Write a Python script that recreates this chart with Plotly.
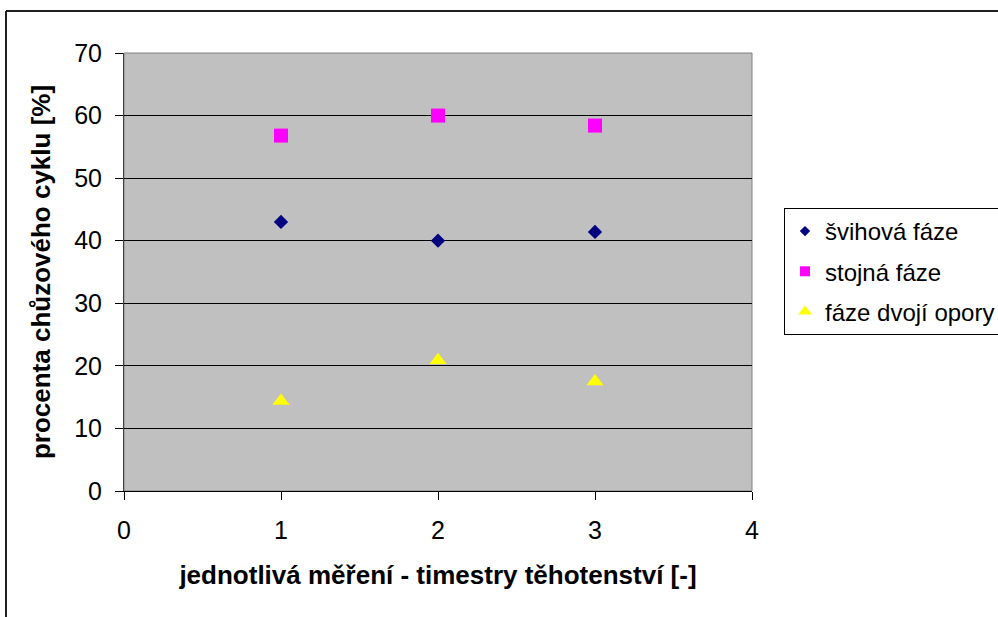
import plotly.graph_objects as go

# Measurements (trimesters) and gait-cycle phase percentages
mereni = [1, 2, 3]
svihova_faze = [43.0, 40.0, 41.4]
stojna_faze = [56.8, 60.0, 58.4]
dvoji_opora = [14.4, 20.9, 17.5]

series_names = ["švihová fáze", "stojná fáze", "fáze dvojí opory"]
x_ticks = [0, 1, 2, 3, 4]
y_ticks = [0, 10, 20, 30, 40, 50, 60, 70]

FONT = "Liberation Sans, Arial, sans-serif"

styles = [
    dict(symbol="diamond", color="#000080", size=11, legend_size=8),
    dict(symbol="square", color="#FF00FF", size=14, legend_size=10),
    dict(symbol="triangle-up", color="#FFFF00", size=15, legend_size=12),
]
values = [svihova_faze, stojna_faze, dvoji_opora]

fig = go.Figure()
for name, vals, st in zip(series_names, values, styles):
    # data markers
    fig.add_trace(go.Scatter(
        x=mereni, y=vals, mode="markers", name=name, showlegend=False,
        marker=dict(symbol=st["symbol"], size=st["size"], color=st["color"]),
    ))
for i, (name, st) in enumerate(zip(series_names, styles)):
    # legend entries with smaller key symbols
    fig.add_trace(go.Scatter(
        x=[None], y=[None], mode="markers", name=name, legendgroup=f"g{i}",
        marker=dict(symbol=st["symbol"], size=st["legend_size"], color=st["color"]),
    ))

W, H = 998, 617
L, R, T, B = 124, 752, 53, 491
pw, ph = R - L, B - T


def px_x(v):
    return (v - L) / pw


def px_y(v):
    return (B - v) / ph


fig.update_layout(
    width=W, height=H,
    margin=dict(l=L, r=W - R, t=T, b=H - B, autoexpand=False),
    paper_bgcolor="white",
    plot_bgcolor="#C0C0C0",
    font=dict(family=FONT, color="black"),
    showlegend=True,
    legend=dict(
        x=px_x(784), y=px_y(208), xanchor="left", yanchor="top",
        bordercolor="black", borderwidth=1, bgcolor="white",
        font=dict(family=FONT, size=24, color="black"),
        tracegroupgap=6,
    ),
    xaxis=dict(
        range=[0, 4], tickvals=x_ticks, ticktext=[str(v) for v in x_ticks],
        showgrid=False, zeroline=False,
        showline=True, linecolor="black", linewidth=1,
        ticks="outside", ticklen=8, tickcolor="black",
        tickfont=dict(family=FONT, size=25, color="black"),
        ticklabelstandoff=9,
        title=dict(text="<b>jednotlivá měření - timestry těhotenství [-]</b>",
                   font=dict(family=FONT, size=26, color="black"), standoff=22),
    ),
    yaxis=dict(
        range=[0, 70], tickvals=y_ticks, ticktext=[str(v) for v in y_ticks],
        showgrid=True, gridcolor="black", gridwidth=1, zeroline=False,
        showline=True, linecolor="#404040", linewidth=1,
        ticks="outside", ticklen=8, tickcolor="black",
        tickfont=dict(family=FONT, size=25, color="black"),
        ticklabelstandoff=8,
        title=dict(text="<b>procenta chůzového cyklu [%]</b>",
                   font=dict(family=FONT, size=26, color="black"), standoff=16),
    ),
    shapes=[
        # plot area frame
        dict(type="rect", xref="paper", yref="paper", x0=0, x1=1, y0=0, y1=1,
             line=dict(color="#808080", width=1), layer="below"),
        # chart border (top and left edges)
        dict(type="line", xref="paper", yref="paper",
             x0=px_x(6), x1=px_x(1005), y0=px_y(11), y1=px_y(11),
             line=dict(color="#202020", width=2)),
        dict(type="line", xref="paper", yref="paper",
             x0=px_x(6), x1=px_x(6), y0=px_y(11), y1=px_y(625),
             line=dict(color="#202020", width=2)),
    ],
)

fig.write_html("out.html")
